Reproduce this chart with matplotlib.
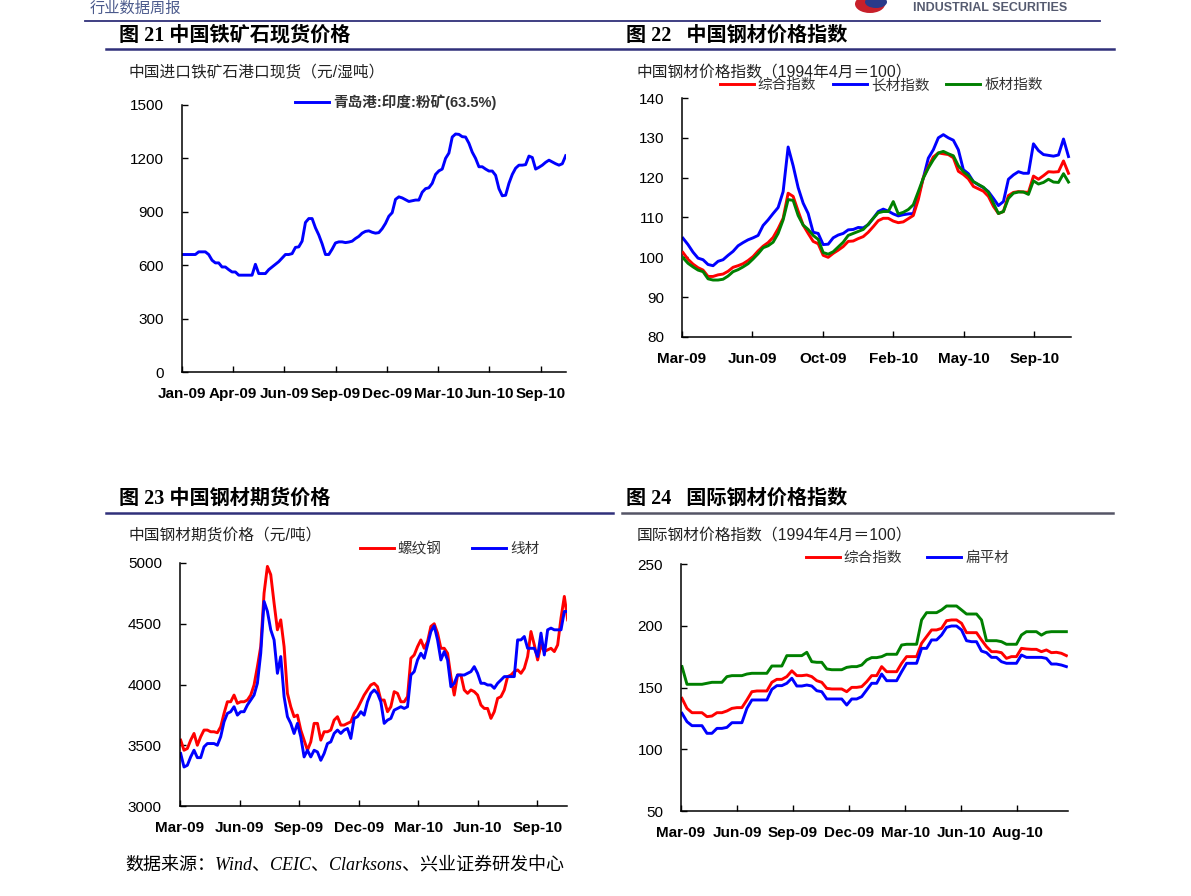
import numpy as np
import matplotlib
matplotlib.use('Agg')
import matplotlib.pyplot as plt
from matplotlib.lines import Line2D
from matplotlib.patches import Ellipse

plt.rcParams['font.family'] = ['Liberation Sans', 'Noto Sans CJK SC']
plt.rcParams['axes.unicode_minus'] = False

W, H = 1191, 896

# ---- 图21 中国铁矿石现货价格 ----
ore_labels = ['Jan-09', 'Apr-09', 'Jun-09', 'Sep-09', 'Dec-09', 'Mar-10', 'Jun-10', 'Sep-10']
ore_price = [660, 660, 660, 660, 660, 675, 675, 675, 660, 628,
             613, 613, 590, 590, 575, 562, 562, 544, 544, 544,
             544, 544, 605, 553, 553, 553, 575, 590, 605, 620,
             640, 660, 660, 665, 700, 703, 735, 840, 862, 862,
             810, 770, 720, 660, 660, 690, 725, 731, 731, 727,
             730, 735, 750, 762, 780, 790, 793, 785, 780, 783,
             805, 835, 875, 895, 970, 984, 978, 968, 958, 962,
             966, 966, 1010, 1030, 1035, 1060, 1110, 1130, 1140, 1200,
             1230, 1320, 1337, 1335, 1322, 1320, 1285, 1235, 1200, 1153,
             1153, 1140, 1129, 1129, 1105, 1030, 990, 993, 1060, 1110,
             1145, 1162, 1162, 1165, 1213, 1205, 1140, 1150, 1162, 1178,
             1190, 1180, 1170, 1162, 1170, 1215]

# ---- 图22 中国钢材价格指数 ----
cn_labels = ['Mar-09', 'Jun-09', 'Oct-09', 'Feb-10', 'May-10', 'Sep-10']
cn_total = [101.2, 99.5, 98.3, 97.4, 96.8, 95.2, 95.2, 95.6, 95.8, 96.5,
            97.5, 97.9, 98.4, 99.2, 100.2, 101.6, 102.8, 103.7, 105.0, 107.2,
            109.8, 116.1, 115.3, 111.6, 108.1, 106.0, 104.0, 103.4, 100.5, 100.0,
            101.0, 101.8, 102.7, 104.0, 104.1, 104.7, 105.2, 106.3, 107.7, 109.2,
            109.8, 109.8, 109.1, 108.7, 108.9, 109.7, 110.5, 114.5, 120.0, 122.7,
            125.2, 126.2, 126.0, 125.8, 125.0, 121.6, 120.8, 119.7, 117.8, 117.2,
            116.6, 115.3, 112.8, 111.0, 111.5, 115.5, 116.3, 116.5, 116.4, 116.3,
            120.4, 119.6, 120.5, 121.5, 121.4, 121.5, 124.2, 121.1]
cn_long = [104.8, 103.2, 101.3, 99.8, 99.4, 98.2, 97.9, 99.0, 99.4, 100.5,
           101.5, 102.9, 103.7, 104.4, 104.9, 105.5, 108.0, 109.4, 111.0, 112.5,
           116.5, 127.7, 123.0, 117.5, 113.6, 111.0, 106.3, 106.0, 103.2, 103.3,
           104.9, 105.6, 106.0, 106.9, 107.0, 107.5, 107.4, 108.2, 109.8, 111.5,
           112.1, 111.6, 110.9, 110.4, 110.7, 110.9, 111.0, 115.5, 119.9, 124.9,
           127.0, 130.0, 130.8, 130.0, 129.4, 127.0, 122.0, 121.0, 119.0, 118.2,
           117.5, 116.5, 114.8, 113.0, 114.0, 119.6, 120.7, 121.5, 121.1, 121.1,
           128.5, 126.8, 125.8, 125.6, 125.4, 125.7, 129.7, 125.3]
cn_flat = [99.9, 98.5, 97.6, 96.8, 96.4, 94.6, 94.3, 94.3, 94.5, 95.3,
           96.4, 96.9, 97.6, 98.4, 99.6, 100.9, 102.4, 102.9, 103.8, 106.0,
           109.4, 114.5, 114.3, 110.5, 108.1, 107.0, 105.5, 104.5, 101.2, 100.8,
           101.4, 102.6, 103.8, 105.5, 106.0, 106.5, 107.0, 108.3, 109.8, 111.2,
           111.5, 111.5, 114.0, 110.9, 111.3, 112.0, 113.2, 116.5, 119.9, 122.4,
           124.5, 126.2, 126.6, 126.0, 125.5, 123.0, 121.5, 120.5, 119.0, 118.3,
           117.6, 116.3, 113.6, 111.0, 111.5, 114.8, 116.1, 116.4, 116.4, 115.8,
           119.2, 118.4, 118.8, 119.6, 118.9, 118.8, 121.0, 118.9]

# ---- 图23 中国钢材期货价格 ----
fut_labels = ['Mar-09', 'Jun-09', 'Sep-09', 'Dec-09', 'Mar-10', 'Jun-10', 'Sep-10']
fut_rebar = [3542, 3459, 3473, 3542, 3597, 3500, 3570, 3625, 3625, 3611,
             3611, 3603, 3652, 3762, 3858, 3858, 3913, 3845, 3858, 3858,
             3872, 3913, 3996, 4147, 4312, 4752, 4972, 4904, 4670, 4450,
             4532, 4312, 3927, 3817, 3735, 3748, 3625, 3542, 3459, 3528,
             3680, 3680, 3542, 3611, 3611, 3625, 3707, 3735, 3666, 3666,
             3680, 3693, 3762, 3803, 3858, 3913, 3955, 3996, 4010, 3982,
             3872, 3872, 3776, 3817, 3941, 3927, 3858, 3858, 3900, 4216,
             4243, 4312, 4367, 4298, 4353, 4478, 4500, 4423, 4298, 4298,
             4257, 4065, 3913, 4078, 4078, 3955, 3927, 3955, 3941, 3913,
             3831, 3803, 3803, 3721, 3776, 3886, 3900, 3955, 4065, 4078,
             4106, 4120, 4092, 4133, 4230, 4436, 4326, 4202, 4326, 4271,
             4285, 4298, 4271, 4326, 4546, 4725, 4532]
fut_wire = [3432, 3321, 3335, 3404, 3459, 3398, 3398, 3487, 3514, 3514,
            3514, 3500, 3570, 3693, 3762, 3776, 3817, 3748, 3776, 3776,
            3831, 3872, 3913, 4010, 4257, 4684, 4602, 4450, 4367, 4092,
            4230, 3900, 3735, 3680, 3597, 3680, 3570, 3404, 3459, 3404,
            3459, 3445, 3376, 3432, 3514, 3528, 3597, 3625, 3597, 3625,
            3638, 3556, 3721, 3735, 3776, 3748, 3858, 3927, 3955, 3927,
            3858, 3680, 3707, 3721, 3789, 3803, 3817, 3803, 3817, 4078,
            4106, 4202, 4257, 4216, 4326, 4436, 4483, 4367, 4202, 4271,
            4202, 3982, 4010, 4078, 4078, 4078, 4092, 4106, 4147, 4092,
            4010, 4010, 3996, 3996, 3969, 4010, 4037, 4065, 4065, 4065,
            4065, 4367, 4367, 4395, 4298, 4298, 4298, 4230, 4423, 4243,
            4450, 4464, 4450, 4450, 4450, 4601, 4601]

# ---- 图24 国际钢材价格指数 ----
intl_labels = ['Mar-09', 'Jun-09', 'Sep-09', 'Dec-09', 'Mar-10', 'Jun-10', 'Aug-10']
intl_total = [141.2, 133.1, 129.6, 129.6, 129.6, 126.4, 126.9, 129.6, 129.6, 131.0,
              133.1, 133.7, 133.7, 139.9, 146.6, 147.2, 147.2, 147.2, 154.2, 156.6,
              156.6, 158.8, 163.5, 159.6, 159.6, 160.1, 158.8, 155.5, 154.2, 149.3,
              148.8, 148.8, 148.8, 146.6, 150.1, 150.1, 150.7, 154.7, 159.6, 159.6,
              166.9, 162.8, 162.8, 162.8, 169.6, 175.0, 175.0, 175.0, 185.8, 191.2,
              196.6, 196.6, 197.9, 204.1, 204.7, 204.7, 202.0, 194.4, 194.4, 194.4,
              188.5, 183.1, 179.0, 179.0, 178.2, 173.6, 175.0, 175.0, 181.7, 181.2,
              180.9, 180.9, 179.0, 180.4, 178.2, 178.5, 177.7, 175.8]
intl_flat = [129.1, 122.3, 119.1, 119.1, 119.1, 112.9, 112.9, 116.9, 116.9, 117.7,
             121.5, 121.5, 121.5, 133.1, 139.9, 139.9, 139.9, 139.9, 148.5, 151.5,
             151.5, 153.4, 157.5, 151.2, 151.2, 152.0, 151.2, 147.4, 146.6, 140.7,
             140.7, 140.7, 140.7, 135.8, 140.7, 140.7, 142.6, 148.0, 153.4, 153.4,
             160.9, 155.5, 155.5, 155.5, 162.8, 169.6, 169.6, 169.6, 181.7, 181.7,
             188.5, 188.5, 192.5, 198.7, 199.8, 199.8, 196.6, 187.9, 187.1, 187.1,
             179.5, 178.2, 174.4, 174.4, 170.9, 169.6, 169.6, 169.6, 176.3, 174.4,
             174.4, 174.4, 174.4, 173.6, 169.0, 169.0, 168.2, 166.9]
intl_other = [166.9, 152.6, 152.6, 152.6, 152.6, 153.4, 154.2, 154.2, 154.2, 158.8,
              159.6, 159.6, 159.6, 160.9, 161.5, 161.5, 161.5, 161.5, 167.4, 167.4,
              167.4, 175.8, 175.8, 175.8, 175.8, 178.5, 170.9, 170.4, 170.4, 165.0,
              164.4, 164.4, 164.4, 166.3, 166.9, 166.9, 168.2, 172.3, 174.2, 174.2,
              175.0, 176.9, 176.9, 176.9, 184.4, 185.0, 185.0, 185.0, 204.7, 210.6,
              210.6, 210.6, 212.8, 216.0, 216.0, 216.0, 212.8, 209.5, 209.5, 209.5,
              204.7, 187.9, 187.9, 187.9, 187.1, 185.0, 185.0, 185.0, 192.5, 195.2,
              195.2, 195.2, 192.4, 194.7, 195.2, 195.2, 195.2, 195.2]


def fx(x):
    return x / W


def fy(y):
    return 1 - y / H


def make_axes(fig, left, top, right, bottom):
    return fig.add_axes([fx(left), fy(bottom), (right - left) / W, (bottom - top) / H])


def style(ax, xlim, ylim, yticks, xticks, xlabels):
    ax.spines['top'].set_visible(False)
    ax.spines['right'].set_visible(False)
    for s in ['left', 'bottom']:
        ax.spines[s].set_linewidth(1.1)
    ax.set_xlim(*xlim)
    ax.set_ylim(*ylim)
    ax.set_yticks(yticks)
    ax.set_xticks(xticks)
    ax.set_xticklabels(xlabels, fontweight='bold')
    ax.tick_params(axis='both', direction='in', length=4, width=1, labelsize=11)
    ax.tick_params(axis='x', pad=10.5)
    ax.tick_params(axis='y', pad=13)


def legend(ax, handles, labels, x, y, colsp, bold=False):
    leg = ax.legend(handles, labels, loc='center left', bbox_to_anchor=(fx(x), fy(y)),
                    bbox_transform=ax.figure.transFigure, ncol=len(labels), frameon=False,
                    borderpad=0, borderaxespad=0, handlelength=2.3, handletextpad=0.3,
                    columnspacing=colsp, fontsize=10.5)
    for t in leg.get_texts():
        t.set_color('#333333')
        if bold:
            t.set_fontweight('bold')


fig = plt.figure(figsize=(W / 100, H / 100), dpi=100)
fig.patch.set_facecolor('white')

# header pieces (report name and logo at the very top)
fig.text(fx(90), fy(9), '行业数据周报', fontsize=11, color='#4b5a8c', va='center', ha='left')
fig.add_artist(Ellipse((fx(870), fy(4)), 30 / W, 18 / H, transform=fig.transFigure,
                       facecolor='#c8202a', edgecolor='none'))
fig.add_artist(Ellipse((fx(876), fy(2)), 22 / W, 12 / H, transform=fig.transFigure,
                       facecolor='#2a3a8a', edgecolor='none'))
fig.text(fx(990), fy(8), 'INDUSTRIAL SECURITIES', fontsize=9, fontweight='bold',
         color='#555b70', va='center', ha='center')

rule = '#30307a'
fig.add_artist(Line2D([fx(85), fx(1100)], [fy(21), fy(21)], transform=fig.transFigure, color=rule, lw=1.3))
fig.add_artist(Line2D([fx(106), fx(1114)], [fy(49), fy(49)], transform=fig.transFigure, color=rule, lw=1.8))
fig.add_artist(Line2D([fx(106), fx(613)], [fy(513), fy(513)], transform=fig.transFigure, color=rule, lw=1.8))
fig.add_artist(Line2D([fx(622), fx(1113)], [fy(513), fy(513)], transform=fig.transFigure, color='#555566', lw=1.8))

title_font = dict(fontsize=14.5, fontweight='bold', family=['Liberation Serif', 'Noto Sans CJK SC'],
                  va='center', ha='left', color='black')
fig.text(fx(119), fy(36), '图 21 中国铁矿石现货价格', **title_font)
fig.text(fx(626), fy(36), '图 22   中国钢材价格指数', **title_font)
fig.text(fx(119), fy(499), '图 23 中国钢材期货价格', **title_font)
fig.text(fx(626), fy(499), '图 24   国际钢材价格指数', **title_font)

sub = dict(fontsize=11.3, va='center', ha='left', color='#222222')
fig.text(fx(128), fy(73), '中国进口铁矿石港口现货（元/湿吨）', **sub)
fig.text(fx(636), fy(72), '中国钢材价格指数（1994年4月＝100）', **sub)
fig.text(fx(128), fy(536), '中国钢材期货价格（元/吨）', **sub)
fig.text(fx(637), fy(535), '国际钢材价格指数（1994年4月＝100）', **sub)

fig.text(fx(125), fy(866), '数据来源：Wind、CEIC、Clarksons、兴业证券研发中心', fontsize=13,
         style='italic', family=['Liberation Serif', 'Noto Sans CJK SC'], va='center', ha='left')

lw = 2.1

# panel 1
ax1 = make_axes(fig, 182, 105, 566, 372)
x1 = np.arange(len(ore_price))
l1, = ax1.plot(x1, ore_price, color='#0000ff', lw=lw)
style(ax1, (0, 115.1), (0, 1500), np.arange(0, 1501, 300), np.arange(8) * 15.36, ore_labels)
legend(ax1, [l1], ['青岛港:印度:粉矿(63.5%)'], 295, 102, 1.0, bold=True)

# panel 2
assert len(cn_total) == len(cn_long) == len(cn_flat)
ax2 = make_axes(fig, 682, 98, 1071, 337)
x2 = np.arange(len(cn_total))
r2, = ax2.plot(x2, cn_total, color='#ff0000', lw=lw, zorder=3)
b2, = ax2.plot(x2, cn_long, color='#0000ff', lw=lw, zorder=2)
g2, = ax2.plot(x2, cn_flat, color='#008000', lw=lw, zorder=4)
style(ax2, (-0.2, 77.5), (80, 140), np.arange(80, 141, 10), -0.2 + np.arange(6) * 14.07, cn_labels)
legend(ax2, [r2, b2, g2], ['综合指数', '长材指数', '板材指数'], 720, 85, 1.15)

# panel 3
assert len(fut_rebar) == len(fut_wire)
ax3 = make_axes(fig, 180, 563, 567, 806)
x3 = np.arange(len(fut_rebar))
r3, = ax3.plot(x3, fut_rebar, color='#ff0000', lw=lw)
b3, = ax3.plot(x3, fut_wire, color='#0000ff', lw=lw)
style(ax3, (-0.2, 115.8), (3000, 5000), np.arange(3000, 5001, 500), -0.2 + np.arange(7) * 17.85, fut_labels)
legend(ax3, [r3, b3], ['螺纹钢', '线材'], 360, 549, 2.1)

# panel 4
assert len(intl_total) == len(intl_flat) == len(intl_other)
ax4 = make_axes(fig, 681, 564, 1068, 811)
x4 = np.arange(len(intl_total))
r4, = ax4.plot(x4, intl_total, color='#ff0000', lw=lw)
b4, = ax4.plot(x4, intl_flat, color='#0000ff', lw=lw)
ax4.plot(x4, intl_other, color='#008000', lw=lw)
style(ax4, (-0.2, 77.33), (50, 250), np.arange(50, 251, 50), -0.2 + np.arange(7) * 11.23, intl_labels)
legend(ax4, [r4, b4], ['综合指数', '扁平材'], 806, 558, 1.7)

fig.savefig('out.png', dpi=100, facecolor='white')
